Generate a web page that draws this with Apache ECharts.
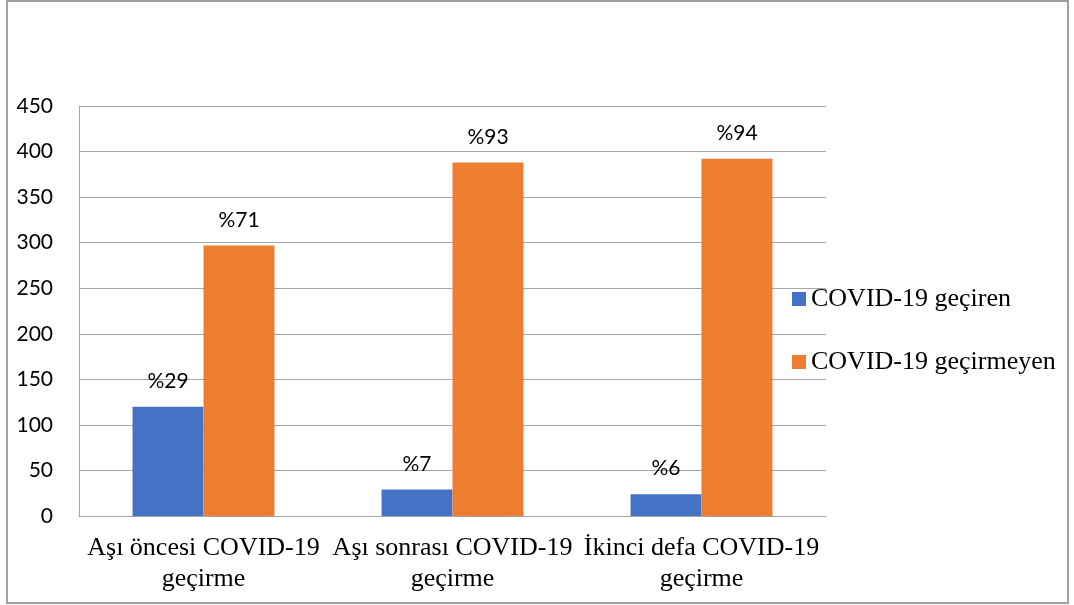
<!DOCTYPE html>
<html>
<head>
<meta charset="utf-8">
<script src="https://cdn.jsdelivr.net/npm/echarts@6/dist/echarts.min.js"></script>
<style>
html,body{margin:0;padding:0;background:#fff;}
#chart{width:1074px;height:605px;}
</style>
</head>
<body>
<div id="chart"></div>
<script>
const categories = ["Aşı öncesi COVID-19\ngeçirme", "Aşı sonrası COVID-19\ngeçirme", "İkinci defa COVID-19\ngeçirme"];
const seriesNames = ["COVID-19 geçiren", "COVID-19 geçirmeyen"];
const geciren = [120, 29, 24];
const gecirmeyen = [297, 388, 392];
const gecirenPct = ["%29", "%7", "%6"];
const gecirmeyenPct = ["%71", "%93", "%94"];
const yTicks = [0, 50, 100, 150, 200, 250, 300, 350, 400, 450];

const chart = echarts.init(document.getElementById('chart'), null, {renderer: 'canvas'});
const sansFont = 'Lato';
const serifFont = '"Liberation Serif", "Times New Roman", serif';
const gridColor = '#a6a6a6';

function labelFor(arr) {
  return {
    show: true,
    position: 'top',
    distance: 15,
    fontFamily: sansFont,
    fontSize: 21,
    color: '#000',
    formatter: p => arr[p.dataIndex]
  };
}

chart.setOption({
  animation: false,
  backgroundColor: '#fff',
  graphic: [{
    type: 'rect',
    shape: {x: 7, y: 1, width: 1061, height: 602},
    style: {fill: 'none', stroke: '#a0a0a0', lineWidth: 2},
    silent: true
  }],
  grid: {left: 79, right: 248, top: 106, bottom: 89, containLabel: false},
  legend: {
    orient: 'vertical',
    left: 787,
    top: 281,
    padding: 5,
    itemWidth: 14,
    itemHeight: 14,
    itemGap: 37,
    icon: 'rect',
    textStyle: {fontFamily: serifFont, fontSize: 26, color: '#000'},
    data: seriesNames
  },
  xAxis: {
    type: 'category',
    data: categories,
    axisLine: {show: true, lineStyle: {color: gridColor, width: 1}},
    axisTick: {show: false},
    axisLabel: {
      interval: 0,
      margin: 17,
      fontFamily: serifFont,
      fontSize: 26,
      lineHeight: 31,
      color: '#000'
    }
  },
  yAxis: {
    type: 'value',
    min: yTicks[0],
    max: yTicks[yTicks.length - 1],
    interval: 50,
    axisLine: {show: true, lineStyle: {color: gridColor, width: 1}},
    axisTick: {show: false},
    splitLine: {show: true, lineStyle: {color: gridColor, width: 1}},
    axisLabel: {
      margin: 26,
      fontFamily: sansFont,
      fontSize: 21,
      color: '#000'
    }
  },
  series: [
    {
      name: seriesNames[0],
      type: 'bar',
      data: geciren,
      barGap: '0%',
      barCategoryGap: '43%',
      itemStyle: {color: '#4472C4'},
      label: labelFor(gecirenPct)
    },
    {
      name: seriesNames[1],
      type: 'bar',
      data: gecirmeyen,
      barGap: '0%',
      barCategoryGap: '43%',
      itemStyle: {color: '#ED7D31'},
      label: labelFor(gecirmeyenPct)
    }
  ]
});
</script>
</body>
</html>
